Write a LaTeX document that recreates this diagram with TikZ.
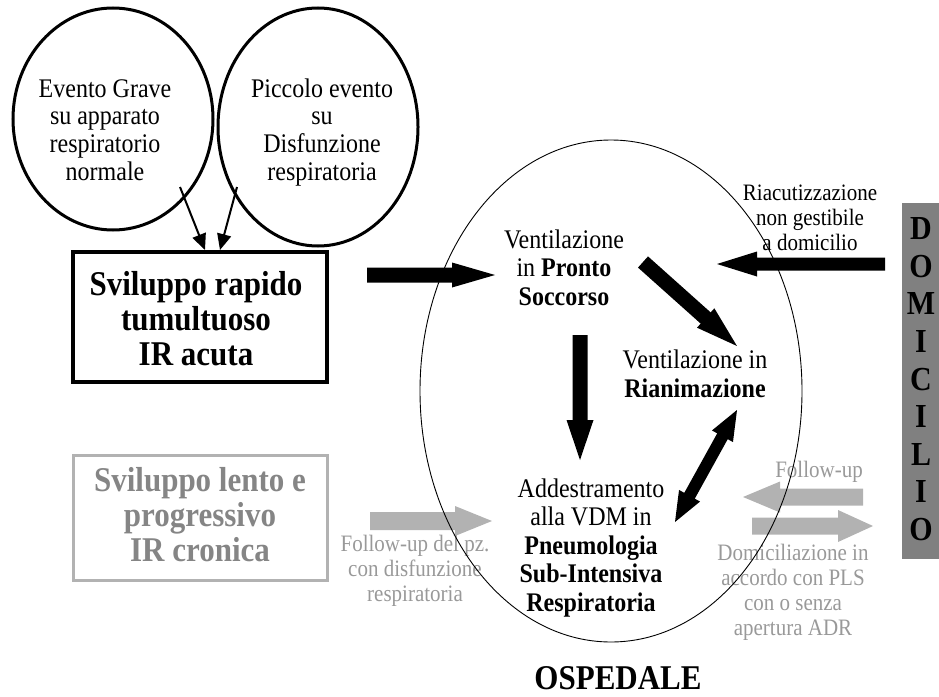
\documentclass[tikz,border=0pt]{standalone}
\usepackage{fontspec}
\usepackage{graphicx}
\setmainfont{Liberation Serif}
\usetikzlibrary{shapes.geometric,arrows.meta,calc}

\definecolor{lgray}{HTML}{B2B2B2}
\definecolor{tgray}{HTML}{999999}
\definecolor{bgray}{HTML}{858585}
\definecolor{dgray}{HTML}{808080}

% vertically stretched centred lines
\newcommand\ys[1]{\scalebox{1}[1.12]{\begin{tabular}{@{}c@{}}#1\end{tabular}}}

% #1 from, #2 to, #3 shaft half width, #4 head half width, #5 head length, #6 colour
\newcommand\blockarrow[6]{%
  \path let \p1=(#1), \p2=(#2) in
    \pgfextra{\pgfmathsetmacro\baang{atan2((\y2)-(\y1),(\x2)-(\x1))}%
      \pgfmathsetmacro\balen{veclen((\x2)-(\x1),(\y2)-(\y1))}%
      \xdef\baang{\baang}\xdef\balen{\balen}\xdef\bax{\x1}\xdef\bay{\y1}};
  \fill[#6, shift={(\bax,\bay)}, rotate=\baang]
    (0pt,-#3pt) -- ({\balen pt-#5pt},-#3pt) -- ({\balen pt-#5pt},-#4pt) -- (\balen pt,0pt)
    -- ({\balen pt-#5pt},#4pt) -- ({\balen pt-#5pt},#3pt) -- (0pt,#3pt) -- cycle;
}
% double-headed version
\newcommand\dblockarrow[6]{%
  \path let \p1=(#1), \p2=(#2) in
    \pgfextra{\pgfmathsetmacro\baang{atan2((\y2)-(\y1),(\x2)-(\x1))}%
      \pgfmathsetmacro\balen{veclen((\x2)-(\x1),(\y2)-(\y1))}%
      \xdef\baang{\baang}\xdef\balen{\balen}\xdef\bax{\x1}\xdef\bay{\y1}};
  \fill[#6, shift={(\bax,\bay)}, rotate=\baang]
    (0pt,0pt) -- (#5pt,-#4pt) -- (#5pt,-#3pt) -- ({\balen pt-#5pt},-#3pt) -- ({\balen pt-#5pt},-#4pt) -- (\balen pt,0pt)
    -- ({\balen pt-#5pt},#4pt) -- ({\balen pt-#5pt},#3pt) -- (#5pt,#3pt) -- (#5pt,#4pt) -- cycle;
}

\begin{document}
\begin{tikzpicture}[x=1pt,y=-1pt,
  txt/.style={anchor=north, inner sep=0pt},
  circ/.style={draw, ellipse, line width=3pt, inner sep=0pt},
  thinarr/.style={line width=2pt, -{Triangle[length=16pt,width=14pt]}},
  fbig/.style={font=\fontsize{24}{24.7}\selectfont},
  fmid/.style={font=\fontsize{24}{25.45}\selectfont},
  fsmall/.style={font=\fontsize{21}{22.3}\selectfont},
  fbox/.style={font=\bfseries\fontsize{31}{31.25}\selectfont},
]
\useasboundingbox (0,0) rectangle (939,696);

% top circles
\node[circ, minimum width=200pt, minimum height=222pt] (c1) at (113,119) {};
\node[circ, minimum width=200pt, minimum height=238pt] (c2) at (318,127) {};
\node[txt, fbig] (t1) at (105,77.6) {\ys{Evento Grave\\su apparato\\respiratorio\\normale}};
\node[txt, fbig] (t2) at (322,77.6) {\ys{Piccolo evento\\su\\Disfunzione\\respiratoria}};

% boxes
\node[draw, line width=3.5pt, minimum width=254pt, minimum height=130pt, inner sep=0pt] (b1) at (200,317) {};
\node[txt, fbox] (b1t) at (196,270.5) {\ys{Sviluppo rapido\\tumultuoso\\IR acuta}};
\node[draw=lgray, line width=3pt, minimum width=254pt, minimum height=125pt, inner sep=0pt] (b2) at (200,517.5) {};
\node[txt, fbox, text=bgray] (b2t) at (200,466.5) {\ys{Sviluppo lento e\\progressivo\\IR cronica}};

% circle -> box arrows
\coordinate (c1a) at (180,187);
\coordinate (c1b) at (205,250);
\coordinate (c2a) at (237,187);
\coordinate (c2b) at (220,250);
\draw[thinarr] (c1a) -- (c1b);
\draw[thinarr] (c2a) -- (c2b);

% DOMICILIO
\node[fill=dgray, minimum width=37pt, minimum height=356pt, inner sep=0pt] (dom) at (920.5,381) {};
\node[txt, font=\bfseries\fontsize{30}{33.6}\selectfont] (domt) at (921,213)
  {\ys{D\\O\\M\\I\\C\\I\\L\\I\\O}};

% hospital texts
\node[txt, fmid] (ps) at (564,228) {\ys{Ventilazione\\in \textbf{Pronto}\\\textbf{Soccorso}}};
\node[txt, font=\fontsize{24}{25.9}\selectfont] (ri) at (695,347.7) {\ys{Ventilazione in\\\textbf{Rianimazione}}};
\node[txt, fmid] (pn) at (591,477) {\ys{Addestramento\\alla VDM in\\\textbf{Pneumologia}\\\textbf{Sub-Intensiva}\\\textbf{Respiratoria}}};

\node[txt, fsmall] (ria) at (810,182.5) {\ys{Riacutizzazione\\non gestibile\\a domicilio}};
\node[txt, fsmall, text=tgray] (fu1) at (415,534) {\ys{Follow-up del pz.\\con disfunzione\\respiratoria}};
\node[txt, fsmall, text=tgray] (fu2) at (819,459.5) {\ys{Follow-up}};
\node[txt, fsmall, text=tgray] (dm) at (793,542.5) {\ys{Domiciliazione in\\accordo con PLS\\con o senza\\apertura ADR}};

\node[anchor=base, inner sep=0pt, fbox] (osp) at (618,689) {\scalebox{1}[1.12]{OSPEDALE}};

% block arrows
\coordinate (a1s) at (367,275);  \coordinate (a1e) at (495,275);
\coordinate (a2s) at (885,264);  \coordinate (a2e) at (717,264);
\coordinate (a3s) at (643,262);  \coordinate (a3e) at (737,346);
\coordinate (a4s) at (580,335);  \coordinate (a4e) at (580,460);
\coordinate (a5s) at (675,522);  \coordinate (a5e) at (737,410);
\coordinate (g1s) at (370,521);  \coordinate (g1e) at (492,521);
\coordinate (g2s) at (863,497);  \coordinate (g2e) at (743,497);
\coordinate (g3s) at (752,526);  \coordinate (g3e) at (873,526);

\blockarrow{a1s}{a1e}{7.5}{12.5}{43}{black}
\blockarrow{a2s}{a2e}{6.5}{12.5}{40}{black}
\blockarrow{a3s}{a3e}{7.5}{13}{42}{black}
\blockarrow{a4s}{a4e}{7.5}{13.5}{40}{black}
\dblockarrow{a5s}{a5e}{6}{12}{30}{black}
\blockarrow{g1s}{g1e}{9}{15}{37}{lgray}
\blockarrow{g2s}{g2e}{8.5}{15.5}{37}{lgray}
\blockarrow{g3s}{g3e}{8.5}{16}{35}{lgray}

% hospital ellipse on top
\node[draw, ellipse, line width=0.9pt, minimum width=382pt, minimum height=502pt, inner sep=0pt] (hosp) at (611,391) {};
\end{tikzpicture}
\end{document}
